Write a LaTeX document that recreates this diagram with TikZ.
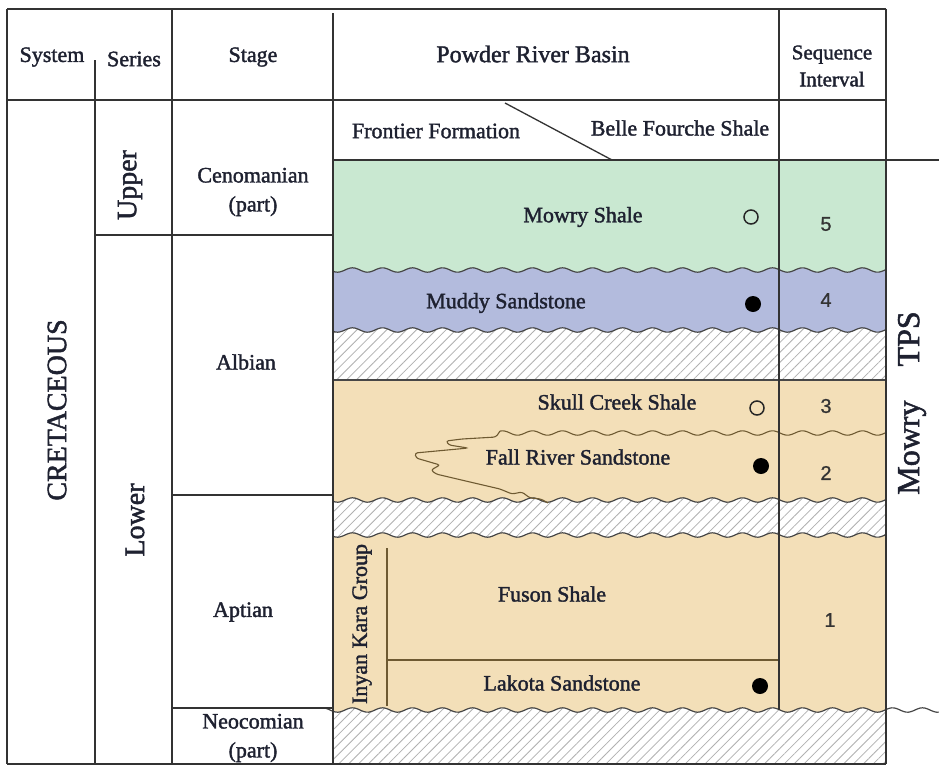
\documentclass[tikz,border=0pt]{standalone}
\usepackage{fontspec}
\setmainfont{Liberation Serif}[FakeBold=1.6]
\newfontfamily\numfont{Liberation Sans}[FakeBold=0.8]
\usetikzlibrary{patterns.meta}
\definecolor{mgreen}{HTML}{C9E8D1}
\definecolor{mblue}{HTML}{B3BBDD}
\definecolor{mtan}{HTML}{F3DFB8}
\definecolor{hatchgray}{HTML}{B0B0B0}
\definecolor{brn}{HTML}{6E5A32}
\definecolor{ink}{HTML}{1E2130}
\definecolor{gridc}{HTML}{333333}
\begin{document}
\begin{tikzpicture}[x=1pt,y=-1pt,
  gridl/.style={draw=gridc,line width=1.3pt},
  wavel/.style={draw=gridc!90,line width=1.2pt},
  brnl/.style={draw=brn,line width=1.1pt},
  hatchfill/.style={preaction={fill=white},pattern={Lines[angle=45,distance=7pt,line width=0.8pt]},pattern color=hatchgray},
  txt/.style={font=\fontsize{22}{29}\selectfont,text=ink,inner sep=0pt,align=center},
  bigtxt/.style={font=\fontsize{28}{30}\selectfont,text=ink,inner sep=0pt,rotate=90},
  numtxt/.style={font=\numfont\fontsize{20}{22}\selectfont,text=gridc,inner sep=0pt},
  dotf/.style={circle,fill=black,minimum size=16pt,inner sep=0pt},
  doto/.style={circle,draw=black!85,line width=1.5pt,minimum size=14pt,inner sep=0pt}]
\useasboundingbox (0,0) rectangle (939,766);
\fill[white] (0,0) rectangle (939,766);
% ---- coloured layers ----
\begin{scope}
\clip (333,160) rectangle (886,764);
\path[hatchfill] (333,160) rectangle (886,764);
\fill[mtan] (320,150) -- plot[domain=320:950,samples=260] (\x,{710+2.2*sin(12*\x)}) -- (950,150) -- cycle;
\path[hatchfill] (320,150) -- plot[domain=320:950,samples=260] (\x,{535+2.2*sin(12*\x)}) -- (950,150) -- cycle;
\fill[mtan] (320,150) -- plot[domain=320:950,samples=260] (\x,{500+2.2*sin(12*\x)}) -- (950,150) -- cycle;
\path[hatchfill] (320,150) rectangle (950,380);
\fill[mblue] (320,150) -- plot[domain=320:950,samples=260] (\x,{330+2.2*sin(12*\x)}) -- (950,150) -- cycle;
\fill[mgreen] (320,150) -- plot[domain=320:950,samples=260] (\x,{270+2.2*sin(12*\x)}) -- (950,150) -- cycle;
\end{scope}
% ---- layer boundaries ----
\draw[wavel] plot[domain=333:886,samples=230] (\x,{270+2.2*sin(12*\x)});
\draw[wavel] plot[domain=333:886,samples=230] (\x,{330+2.2*sin(12*\x)});
\draw[gridc!90,line width=1.1pt] (333,380) -- (886,380);
\draw[wavel] plot[domain=333:886,samples=230] (\x,{500+2.2*sin(12*\x)});
\draw[wavel] plot[domain=333:886,samples=230] (\x,{535+2.2*sin(12*\x)});
\draw[wavel] plot[domain=326:939,samples=260] (\x,{710+2.2*sin(12*\x)});
\draw[brnl] plot[domain=500:886,samples=160] (\x,{433+2.2*sin(12*\x)});
\coordinate (ifa) at (500,431.1);
\coordinate (ifb) at (548,503);
\draw[brnl,rounded corners=2.5pt] (ifa) -- (496,437) -- (462,439) -- (446,441) -- (449,445) -- (468,448) -- (458,449) -- (415,453) -- (416,458) -- (440,465) -- (431,470) -- (436,474) -- (470,482) -- (500,489) -- (512,494) -- (522,492) -- (530,498) -- (541,499) -- (ifb);
\coordinate (iva) at (387,548);
\coordinate (ivb) at (387,706);
\coordinate (iha) at (387,660);
\coordinate (ihb) at (778,660);
\draw[brnl] (iva) -- (ivb);
\draw[brnl] (iha) -- (ihb);
% ---- grid ----
\draw[gridl] (7,9) -- (886,9);
\draw[gridl] (7,100) -- (886,100);
\draw[gridl] (7,9) -- (7,764);
\draw[gridl] (95,60) -- (95,764);
\draw[gridl] (172,9) -- (172,764);
\draw[gridl] (333,13) -- (333,764);
\draw[gridl] (779,9) -- (779,710);
\draw[gridl] (886,9) -- (886,764);
\draw[gridl] (7,764) -- (886,764);
\draw[gridl] (95,235) -- (333,235);
\draw[gridl] (172,495) -- (333,495);
\draw[gridl] (172,708) -- (333,708);
\draw[gridl] (333,160) -- (939,160);
\draw[gridl] (505,103) -- (612,160);
% ---- header ----
\node[txt] (hsys) at (52,57) {System};
\node[txt] (hser) at (134,59) {Series};
\node[txt] (hstg) at (253,57) {Stage};
\node[txt,font=\fontsize{24}{26}\selectfont] (hprb) at (533,54) {Powder River Basin};
\node[txt,font=\fontsize{21}{27}\selectfont] (hseq) at (832,66) {Sequence\\Interval};
% ---- left columns ----
\node[bigtxt] (cret) at (57,410) {CRETACEOUS};
\node[txt,font=\fontsize{28}{30}\selectfont,rotate=90] (upper) at (130,185) {Upper};
\node[txt,font=\fontsize{28}{30}\selectfont,rotate=90] (lower) at (135,520) {Lower};
\node[txt] (ceno) at (253,192) {Cenomanian\\(part)};
\node[txt] (albi) at (246,362) {Albian};
\node[txt] (apti) at (243,612) {Aptian};
\node[txt] (neoc) at (253,738) {Neocomian\\(part)};
% ---- formations ----
\node[txt] (fron) at (436,131) {Frontier Formation};
\node[txt] (bell) at (680,128) {Belle Fourche Shale};
\node[txt] (mows) at (583,217) {Mowry Shale};
\node[txt] (muds) at (506,303) {Muddy Sandstone};
\node[txt] (skul) at (617,402) {Skull Creek Shale};
\node[txt] (fall) at (578,457) {Fall River Sandstone};
\node[txt] (fuso) at (552,594) {Fuson Shale};
\node[txt] (lako) at (562,683) {Lakota Sandstone};
\node[txt,rotate=90] (inya) at (362,624) {Inyan Kara Group};
% ---- symbols ----
\node[doto] (c5) at (751,217) {};
\node[dotf] (c4) at (753,304) {};
\node[doto] (c3) at (757,408) {};
\node[dotf] (c2) at (761,466) {};
\node[dotf] (c1) at (760,686) {};
% ---- sequence numbers ----
\node[numtxt] (n5) at (826,224) {5};
\node[numtxt] (n4) at (826,300) {4};
\node[numtxt] (n3) at (826,406) {3};
\node[numtxt] (n2) at (826,473) {2};
\node[numtxt] (n1) at (830,620) {1};
% ---- TPS ----
\node[txt,font=\fontsize{32}{34}\selectfont,rotate=90] (tps) at (912,403) {Mowry\hspace{34pt}TPS};
\end{tikzpicture}
\end{document}
